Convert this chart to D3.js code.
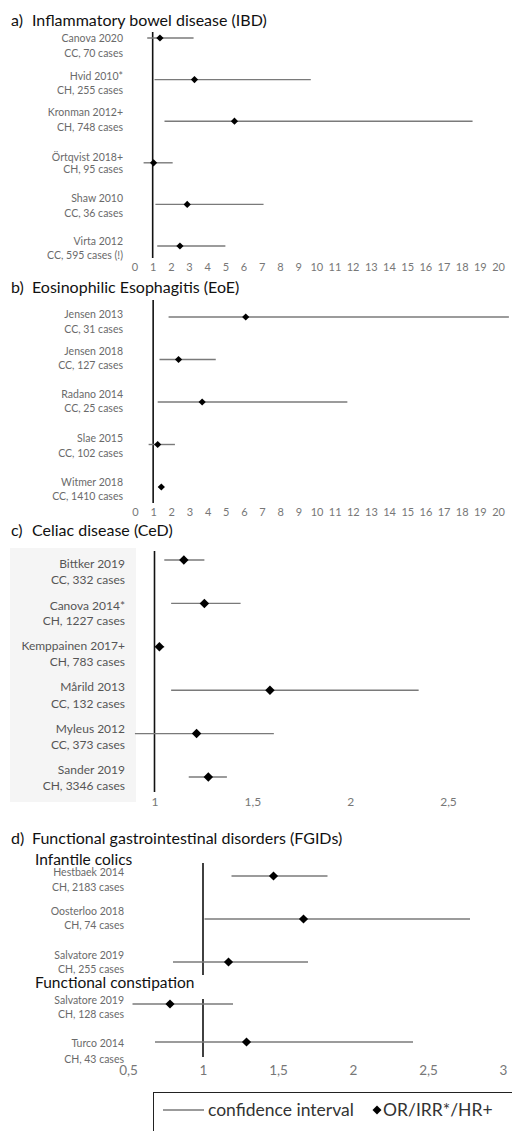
<!DOCTYPE html>
<html lang="en">
<head>
<meta charset="UTF-8">
<title>Forest plots</title>
<script src="https://cdn.jsdelivr.net/npm/d3@7"></script>
<style>
    body { margin: 0; background: #fff; }
    svg { display: block; font-family: Lato, "Open Sans", sans-serif; }
    .title { font-size: 16px; fill: #111; }
    .sub { font-size: 15.5px; fill: #111; }
    .lbl { fill: #666; }
    .ci { stroke: #7a7a7a; stroke-width: 1.4; }
    .ref { stroke: #111; stroke-width: 1.6; }
    .tick text { fill: #777; }
</style>
</head>
<body>
<svg id="chart"></svg>
<script>

    // a) IBD
    var ibdStudy = ["Canova 2020", "Hvid 2010*", "Kronman 2012+", "Örtqvist 2018+", "Shaw 2010", "Virta 2012"];
    var ibdInfo = ["CC, 70 cases", "CH, 255 cases", "CH, 748 cases", "CH, 95 cases", "CC, 36 cases", "CC, 595 cases (!)"];
    var ibdEst = [1.4, 3.3, 5.5, 1.05, 2.9, 2.5];
    var ibdLow = [0.7, 1.1, 1.65, 0.5, 1.15, 1.25];
    var ibdHigh = [3.25, 9.7, 18.6, 2.1, 7.1, 5.0];

    // b) EoE
    var eoeStudy = ["Jensen 2013", "Jensen 2018", "Radano 2014", "Slae 2015", "Witmer 2018"];
    var eoeInfo = ["CC, 31 cases", "CC, 127 cases", "CC, 25 cases", "CC, 102 cases", "CC, 1410 cases"];
    var eoeEst = [6.1, 2.4, 3.7, 1.25, 1.45];
    var eoeLow = [1.85, 1.35, 1.25, 0.75, 1.3];
    var eoeHigh = [20.6, 4.45, 11.7, 2.2, 1.6];

    // c) CeD
    var cedStudy = ["Bittker 2019", "Canova 2014*", "Kemppainen 2017+", "Mårild 2013", "Myleus 2012", "Sander 2019"];
    var cedInfo = ["CC, 332 cases", "CH, 1227 cases", "CH, 783 cases", "CC, 132 cases", "CC, 373 cases", "CH, 3346 cases"];
    var cedEst = [1.15, 1.255, 1.025, 1.59, 1.215, 1.275];
    var cedLow = [1.05, 1.085, 1.005, 1.085, 0.9, 1.175];
    var cedHigh = [1.255, 1.44, 1.05, 2.35, 1.61, 1.37];

    // d) FGIDs - infantile colics
    var colStudy = ["Hestbaek 2014", "Oosterloo 2018", "Salvatore 2019"];
    var colInfo = ["CH, 2183 cases", "CH, 74 cases", "CH, 255 cases"];
    var colEst = [1.47, 1.67, 1.17];
    var colLow = [1.19, 1.01, 0.8];
    var colHigh = [1.83, 2.78, 1.7];

    // d) FGIDs - functional constipation
    var conStudy = ["Salvatore 2019", "Turco 2014"];
    var conInfo = ["CH, 128 cases", "CH, 43 cases"];
    var conEst = [0.78, 1.29];
    var conLow = [0.53, 0.68];
    var conHigh = [1.2, 2.4];

    var ticksAB = d3.range(0, 21);
    var ticksC = [1, 1.5, 2, 2.5];
    var ticksD = [0.5, 1, 1.5, 2, 2.5, 3];

    var width = 512;
    var height = 1131;

    var svg = d3.select("#chart")
        .attr("width", width)
        .attr("height", height);

    var locale = d3.formatLocale({decimal: ",", thousands: ".", grouping: [3], currency: ["", ""]});
    var fmt = locale.format("~g");

    function rows(study, info, est, low, high) {
        return study.map(function (s, i) {
            return {study: s, info: info[i], est: est[i], low: low[i], high: high[i], i: i};
        });
    }

    // draws one block of studies: reference line at 1, CI lines, diamonds, labels
    function block(data, x, yTop, yBot, lineTop, lineBot, o) {
        var y = d3.scalePoint()
            .domain(data.map(function (d) { return d.study + d.info; }))
            .range([yTop, yBot]);

        var g = svg.append("g");

        g.append("line")
            .attr("class", "ref")
            .attr("x1", x(1)).attr("x2", x(1))
            .attr("y1", lineTop).attr("y2", lineBot);

        g.selectAll("line.ci")
            .data(data)
            .enter()
            .append("line")
            .attr("class", "ci")
            .attr("x1", function (d) { return x(d.low); })
            .attr("x2", function (d) { return x(d.high); })
            .attr("y1", function (d) { return y(d.study + d.info); })
            .attr("y2", function (d) { return y(d.study + d.info); });

        g.selectAll("path.pt")
            .data(data)
            .enter()
            .append("path")
            .attr("class", "pt")
            .attr("d", d3.symbol().type(d3.symbolSquare).size(o.size))
            .attr("fill", "#000")
            .attr("transform", function (d) {
                return "translate(" + x(d.est) + "," + y(d.study + d.info) + ") rotate(45)";
            });

        var lab = g.selectAll("g.lab")
            .data(data)
            .enter()
            .append("g")
            .attr("class", "lab")
            .attr("transform", function (d) { return "translate(" + o.labelX + "," + y(d.study + d.info) + ")"; });

        lab.append("text")
            .attr("class", "lbl")
            .attr("text-anchor", "end")
            .attr("y", function (d) { return o.nameDy[d.i]; })
            .style("font-size", o.font + "px")
            .style("fill", o.color)
            .text(function (d) { return d.study; });

        lab.append("text")
            .attr("class", "lbl")
            .attr("text-anchor", "end")
            .attr("y", function (d) { return o.infoDy[d.i]; })
            .style("font-size", o.font + "px")
            .style("fill", o.color)
            .text(function (d) { return d.info; });
    }

    function axis(x, ticks, yPos, fontSize) {
        var ax = svg.append("g")
            .attr("transform", "translate(0," + yPos + ")")
            .call(d3.axisBottom(x).tickValues(ticks).tickSize(0).tickPadding(0).tickFormat(fmt));
        ax.select(".domain").remove();
        ax.selectAll("text")
            .style("font-family", "Lato, sans-serif")
            .style("font-size", fontSize + "px");
    }

    function title(letter, txt, yPos) {
        svg.append("text").attr("class", "title").attr("x", 11).attr("y", yPos).text(letter);
        svg.append("text").attr("class", "title").attr("x", 32).attr("y", yPos).text(txt);
    }

    function sub(txt, yPos) {
        svg.append("text").attr("class", "sub").attr("x", 35).attr("y", yPos).text(txt);
    }

    // a) IBD
    title("a)", "Inflammatory bowel disease (IBD)", 26);
    var xA = d3.scaleLinear().domain([0, 20]).range([134.5, 498]);
    block(rows(ibdStudy, ibdInfo, ibdEst, ibdLow, ibdHigh), xA, 38, 246, 32, 258,
        {size: 26, labelX: 123, font: 10.5, color: "#6a6a6a",
         nameDy: [4, 0, -5, -2, -2, -1], infoDy: [19, 14, 10, 10, 13, 13]});
    axis(xA, ticksAB, 263, 11);

    // b) EoE
    title("b)", "Eosinophilic Esophagitis (EoE)", 293);
    var xB = d3.scaleLinear().domain([0, 20]).range([135, 498]);
    block(rows(eoeStudy, eoeInfo, eoeEst, eoeLow, eoeHigh), xB, 317, 487, 300, 503,
        {size: 26, labelX: 123, font: 10.5, color: "#6a6a6a",
         nameDy: [1, -5, -4, -3, -1], infoDy: [16, 9, 10, 12, 13]});
    axis(xB, ticksAB, 508, 11);

    // c) CeD
    title("c)", "Celiac disease (CeD)", 536);
    svg.append("rect")
        .attr("x", 10).attr("y", 548)
        .attr("width", 126).attr("height", 254)
        .attr("fill", "#f5f5f5");
    var xC = d3.scaleLinear().domain([1, 2.5]).range([154.5, 448]);
    block(rows(cedStudy, cedInfo, cedEst, cedLow, cedHigh), xC, 560, 777, 551, 792,
        {size: 45, labelX: 125, font: 12, color: "#555",
         nameDy: [8, 7, 3, 1, -1, -3], infoDy: [24, 22, 19, 18, 15, 13]});
    axis(xC, ticksC, 797, 12);

    // d) FGIDs
    title("d)", "Functional gastrointestinal disorders (FGIDs)", 844);
    sub("Infantile colics", 865);
    sub("Functional constipation", 988);
    var xD = d3.scaleLinear().domain([0.5, 3]).range([128, 503]);
    block(rows(colStudy, colInfo, colEst, colLow, colHigh), xD, 876, 962, 863, 975,
        {size: 42, labelX: 124, font: 10.5, color: "#6a6a6a",
         nameDy: [0, -4, -3], infoDy: [15, 10, 11]});
    block(rows(conStudy, conInfo, conEst, conLow, conHigh), xD, 1004, 1042, 999, 1057,
        {size: 42, labelX: 124, font: 10.5, color: "#6a6a6a",
         nameDy: [0, 5], infoDy: [14, 21]});
    axis(xD, ticksD, 1065, 13.5);

    // legend
    var leg = svg.append("g");
    leg.append("rect")
        .attr("x", 153.5).attr("y", 1092.5)
        .attr("width", 380).attr("height", 60)
        .attr("fill", "none")
        .attr("stroke", "#222");
    leg.append("line")
        .attr("class", "ci")
        .attr("x1", 163).attr("x2", 204)
        .attr("y1", 1110).attr("y2", 1110);
    leg.append("text")
        .attr("x", 208).attr("y", 1116)
        .style("font-size", "17.5px")
        .style("fill", "#333")
        .text("confidence interval");
    leg.append("path")
        .attr("d", d3.symbol().type(d3.symbolSquare).size(40))
        .attr("transform", "translate(377,1110) rotate(45)");
    leg.append("text")
        .attr("x", 383).attr("y", 1116)
        .style("font-size", "17.5px")
        .style("fill", "#333")
        .text("OR/IRR*/HR+");

</script>
</body>
</html>
